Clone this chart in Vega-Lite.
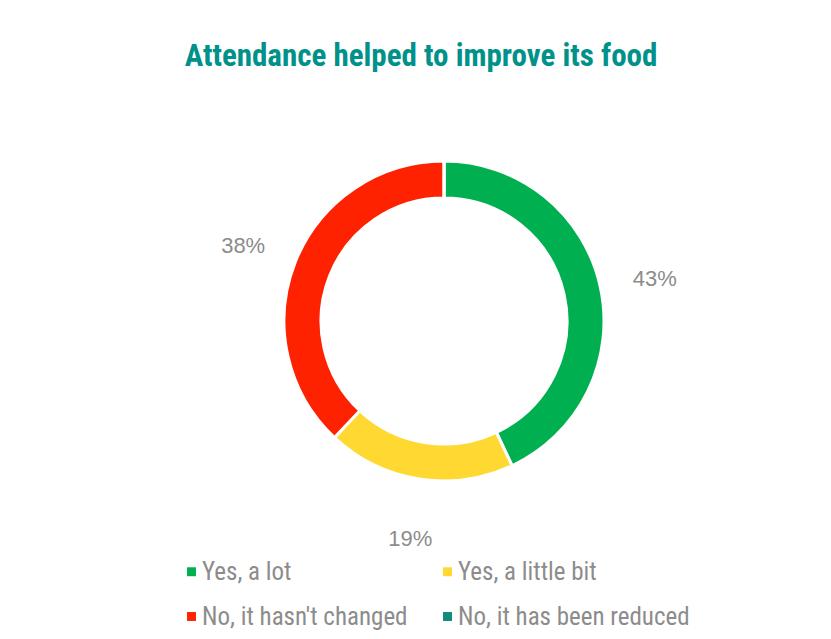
{
  "$schema": "https://vega.github.io/schema/vega-lite/v6.json",
  "width": 770,
  "height": 650,
  "autosize": {"type": "none"},
  "padding": {"left": 48, "top": 15, "right": 13, "bottom": 0},
  "background": "white",
  "title": {
    "text": "Attendance helped to improve its food",
    "font": "Roboto Condensed, Liberation Sans",
    "fontWeight": "bold",
    "fontSize": 31,
    "color": "#00928A",
    "anchor": "middle",
    "dx": -12,
    "offset": -58
  },
  "data": {
    "values": [
      {"answer": "Yes, a lot", "share": 0.43, "rank": 1},
      {"answer": "Yes, a little bit", "share": 0.19, "rank": 2},
      {"answer": "No, it hasn't changed", "share": 0.38, "rank": 3},
      {"answer": "No, it has been reduced", "share": 0.0, "rank": 4}
    ]
  },
  "encoding": {
    "theta": {"field": "share", "type": "quantitative", "stack": true},
    "order": {"field": "rank", "type": "quantitative"},
    "color": {
      "field": "answer",
      "type": "nominal",
      "scale": {
        "domain": ["Yes, a lot", "Yes, a little bit", "No, it hasn't changed", "No, it has been reduced"],
        "range": ["#00B050", "#FFD932", "#FF2200", "#0E8A7E"]
      },
      "legend": {
        "title": null,
        "orient": "none",
        "direction": "horizontal",
        "legendX": 131,
        "legendY": 544,
        "columns": 2,
        "columnPadding": 27,
        "rowPadding": 19,
        "symbolType": "square",
        "symbolSize": 80,
        "symbolStrokeWidth": 0,
        "labelOffset": -2,
        "labelFont": "Roboto Condensed, Liberation Sans",
        "labelFontSize": 25,
        "labelColor": "#8C8C8C",
        "labelLimit": 400
      }
    }
  },
  "layer": [
    {
      "mark": {
        "type": "arc",
        "innerRadius": 123,
        "outerRadius": 160,
        "stroke": "white",
        "strokeWidth": 3,
        "xOffset": 11,
        "yOffset": -19
      }
    },
    {
      "transform": [{"filter": "datum.share > 0"}],
      "mark": {
        "type": "text",
        "radius": 216,
        "font": "Liberation Sans",
        "fontSize": 22,
        "xOffset": 11,
        "yOffset": -14
      },
      "encoding": {
        "text": {"field": "share", "type": "quantitative", "format": ".0%"},
        "color": {"value": "#8C8C8C"}
      }
    }
  ],
  "config": {
    "view": {"stroke": "#333333", "strokeWidth": 2}
  }
}
